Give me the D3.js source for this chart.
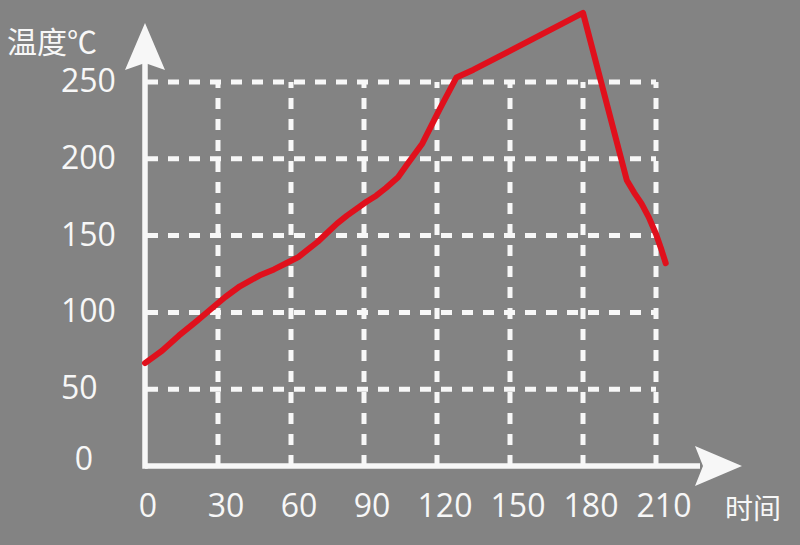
<!DOCTYPE html>
<html><head><meta charset="utf-8">
<script src="https://cdn.jsdelivr.net/npm/d3@7"></script>
<style>
html,body{margin:0;padding:0;background:#838383;}
svg{display:block;}
</style></head>
<body>
<svg id="chart" width="800" height="545"></svg>
<script>
// ---- data ----
const xTicks = [0, 30, 60, 90, 120, 150, 180, 210];
const yTicks = [0, 50, 100, 150, 200, 250];
const xTitle = "时间";
const yTitle = "温度℃";
const times = [0, 7, 14, 21, 27, 33, 39, 47, 53, 58, 63, 67, 71, 75, 79, 83, 91, 95, 99, 104, 108, 114, 121, 128, 135, 180, 198, 201, 204, 207, 210, 212, 214];
const temps = [67, 75, 85, 94, 102, 110, 117, 124, 128, 132, 136, 141, 146, 152, 158, 163, 172, 176, 181, 188, 197, 210, 232, 253, 258, 295, 186, 178, 171, 162, 151, 142, 132];

// ---- layout ----
const W = 800, H = 545;
const svg = d3.select("#chart");
svg.append("rect").attr("width", W).attr("height", H).attr("fill", "#838383");

const x = d3.scaleLinear().domain([0, 210]).range([145, 656]);
const y = d3.scaleLinear().domain([0, 250]).range([466, 82]);
const white = "#f7f7f7";
const dash = "11,10";

// grid (vertical)
svg.append("g").selectAll("line").data(xTicks.filter(d => d > 0)).join("line")
  .attr("x1", d => x(d)).attr("x2", d => x(d))
  .attr("y1", y(0)).attr("y2", y(250))
  .attr("stroke", white).attr("stroke-width", 5).attr("stroke-dasharray", dash);
// grid (horizontal)
svg.append("g").selectAll("line").data(yTicks.filter(d => d > 0)).join("line")
  .attr("x1", x(0) + 2).attr("x2", x(210))
  .attr("y1", d => y(d)).attr("y2", d => y(d))
  .attr("stroke", white).attr("stroke-width", 5).attr("stroke-dasharray", dash);

// axes
svg.append("line").attr("x1", x(0)).attr("x2", 700).attr("y1", y(0)).attr("y2", y(0))
  .attr("stroke", white).attr("stroke-width", 5.5);
svg.append("line").attr("x1", x(0)).attr("x2", x(0)).attr("y1", y(0) + 2.75).attr("y2", 60)
  .attr("stroke", white).attr("stroke-width", 5.5);
// arrows
const ax = x(0);
svg.append("path")
  .attr("d", `M${ax},23 L${ax + 20},70 L${ax},63 L${ax - 20},70 Z`)
  .attr("fill", white);
const ay = y(0);
svg.append("path")
  .attr("d", `M742,${ay} L695,${ay + 20} L703,${ay} L695,${ay - 20} Z`)
  .attr("fill", white);

// tick labels
const fontFam = "'Open Sans', 'Noto Sans', sans-serif";
svg.append("g").selectAll("text").data(xTicks).join("text")
  .attr("x", d => x(d) + (d === 0 ? 3 : 8)).attr("y", 517)
  .attr("text-anchor", "middle")
  .attr("font-family", fontFam).attr("font-size", 32).attr("fill", white)
  .text(d => d);
svg.append("g").selectAll("text").data(yTicks).join("text")
  .attr("x", d => d === 0 ? 84 : 61)
  .attr("y", d => d === 0 ? y(d) + 4 : y(d) + 10)
  .attr("text-anchor", d => d === 0 ? "middle" : "start")
  .attr("font-family", fontFam).attr("font-size", 32).attr("fill", white)
  .text(d => d);

// titles
svg.append("text").attr("x", 7).attr("y", 40).attr("dominant-baseline", "central")
  .attr("font-family", "'Noto Sans CJK SC', sans-serif").attr("font-size", 30).attr("fill", white)
  .text(yTitle);
svg.append("text").attr("x", 725).attr("y", 507).attr("dominant-baseline", "central")
  .attr("font-family", "'Noto Sans CJK SC', sans-serif").attr("font-size", 28).attr("fill", white)
  .text(xTitle);

// data line
const pts = times.map((t, i) => [t, temps[i]]);
const line = d3.line().x(d => x(d[0])).y(d => y(d[1])).curve(d3.curveLinear);
svg.append("path").datum(pts).attr("d", line)
  .attr("fill", "none").attr("stroke", "#e0101c").attr("stroke-width", 6)
  .attr("stroke-linejoin", "round").attr("stroke-linecap", "round");
</script>
</body></html>
